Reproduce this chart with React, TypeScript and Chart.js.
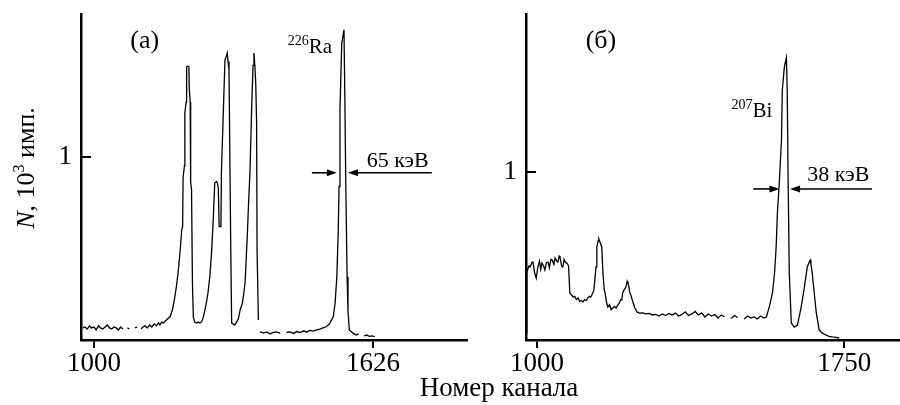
import React, { useEffect, useRef } from "react";
import { Chart, registerables } from "chart.js";

Chart.register(...registerables);

const SERIF = "'Liberation Serif', 'Times New Roman', serif";

// ---------- Panel (а): 226Ra ----------
const leftChannels = [
  975, 980, 985, 990, 995, 1000, 1005, 1010, 1015, 1020, 1025, 1030, 1035, 1040, 1045, 1050, 1055, 1060, 1065, 1070,
  1075, 1080, 1085, 1092, 1097, 1102, 1106, 1110, 1115, 1120, 1125, 1130, 1135, 1140, 1145, 1148, 1152, 1156, 1160, 1165,
  1171, 1176, 1180, 1185, 1189, 1193, 1197, 1199, 1200, 1203, 1204, 1207, 1208, 1213, 1214, 1216, 1217, 1219, 1221, 1223,
  1226, 1230, 1234, 1238, 1242, 1246, 1249, 1252, 1256, 1260, 1264, 1268, 1271, 1275, 1277, 1279, 1281, 1285, 1286, 1290,
  1294, 1297, 1299, 1301, 1303, 1305, 1307, 1309, 1312, 1316, 1320, 1324, 1328, 1333, 1336, 1339, 1344, 1347, 1350, 1354,
  1357, 1359, 1361, 1363, 1365, 1366, 1369, 1371, 1373, 1380, 1388, 1395, 1402, 1410, 1418, 1425, 1432, 1440, 1448, 1455,
  1462, 1470, 1477, 1485, 1492, 1500, 1507, 1514, 1520, 1526, 1530, 1537, 1541, 1545, 1548, 1550, 1552, 1556, 1561, 1563,
  1565, 1568, 1570, 1573, 1578, 1582, 1588, 1594, 1600, 1606, 1612, 1618, 1624, 1630,
];
const leftCounts: (number | null)[] = [
  0.066, 0.071, 0.060, 0.077, 0.066, 0.071, 0.055, 0.077, 0.066, 0.060, 0.071, 0.082, 0.066, 0.060, 0.071, 0.066, 0.055, 0.071, 0.060, null,
  0.066, 0.060, null, 0.066, 0.071, null, 0.060, 0.071, 0.077, 0.066, 0.082, 0.071, 0.088, 0.077, 0.093, 0.082, 0.098, 0.093, 0.104, 0.115,
  0.128, 0.164, 0.213, 0.291, 0.372, 0.475, 0.601, 0.62, 0.885, 0.95, 1.24, 1.3, 1.494, 1.494, 1.366, 1.3, 0.865, 0.82, 0.311, 0.128,
  0.098, 0.093, 0.098, 0.093, 0.1, 0.13, 0.164, 0.2, 0.26, 0.346, 0.48, 0.674, 0.858, 0.865, 0.858, 0.83, 0.619, 0.619, 0.913, 1.22,
  1.53, 1.55, 1.567, 1.52, 1.475, 1.002, 0.492, 0.093, 0.088, 0.082, 0.098, 0.115, 0.164, 0.2, 0.25, 0.311, 0.565, 0.75, 0.913, 1.275,
  1.5, 1.567, 1.5, 1.403, 1.184, 0.492, 0.109, null, 0.046, 0.038, 0.044, 0.033, 0.041, 0.044, 0.036, null, 0.041, 0.044, 0.036, 0.046,
  0.041, 0.049, 0.044, 0.052, 0.049, 0.055, 0.06, 0.066, 0.071, 0.082, 0.095, 0.128, 0.2, 0.346, 0.583, 0.838, 1.257, 1.621, 1.694, 1.311,
  0.856, 0.346, 0.16, 0.055, 0.044, 0.036, 0.027, 0.033, null, 0.022, 0.027, 0.02, 0.022, 0.018,
];
const leftXTicks = [1000, 1626];

// ---------- Panel (б): 207Bi ----------
const rightChannels = [
  973, 975, 980, 983, 987, 990, 994, 998, 1002, 1006, 1009, 1012, 1016, 1019, 1023, 1027, 1030, 1034, 1037, 1041,
  1044, 1048, 1051, 1054, 1056, 1060, 1063, 1066, 1070, 1073, 1077, 1080, 1084, 1088, 1092, 1096, 1100, 1104, 1108, 1112,
  1116, 1120, 1124, 1128, 1131, 1134, 1139, 1142, 1144, 1146, 1149, 1151, 1154, 1158, 1161, 1164, 1166, 1170, 1173, 1177,
  1181, 1185, 1189, 1193, 1197, 1201, 1204, 1207, 1209, 1213, 1217, 1220, 1222, 1224, 1226, 1230, 1234, 1239, 1244, 1250,
  1258, 1266, 1274, 1282, 1290, 1298, 1306, 1314, 1322, 1330, 1338, 1346, 1354, 1362, 1370, 1378, 1386, 1394, 1402, 1410,
  1418, 1426, 1434, 1442, 1450, 1458, 1466, 1474, 1482, 1490, 1498, 1506, 1514, 1522, 1530, 1538, 1546, 1554, 1560, 1567,
  1575, 1580, 1584, 1587, 1592, 1597, 1599, 1604, 1609, 1611, 1613, 1616, 1621, 1628, 1636, 1645, 1652, 1660, 1664, 1667,
  1669, 1672, 1677, 1682, 1689, 1696, 1705, 1713, 1721, 1730, 1738,
];
const rightCounts: (number | null)[] = [
  0.042, 0.405, 0.44, 0.435, 0.46, 0.464, 0.4, 0.369, 0.435, 0.47, 0.42, 0.458, 0.44, 0.417, 0.46, 0.464, 0.43, 0.48, 0.476, 0.45,
  0.488, 0.47, 0.464, 0.5, 0.494, 0.44, 0.435, 0.48, 0.46, 0.458, 0.44, 0.28, 0.27, 0.256, 0.26, 0.24, 0.25, 0.23, 0.235, 0.226,
  0.24, 0.235, 0.25, 0.26, 0.255, 0.268, 0.298, 0.38, 0.435, 0.554, 0.59, 0.601, 0.58, 0.554, 0.399, 0.3, 0.28, 0.22, 0.196, 0.21,
  0.18, 0.19, 0.2, 0.19, 0.208, 0.22, 0.24, 0.238, 0.28, 0.3, 0.315, 0.35, 0.339, 0.32, 0.286, 0.26, 0.226, 0.19, 0.167, 0.16,
  0.161, 0.155, 0.158, 0.149, 0.152, 0.143, 0.155, 0.146, 0.158, 0.149, 0.161, 0.143, 0.152, 0.167, 0.146, 0.155, 0.17, 0.149, 0.161, 0.137,
  0.155, 0.143, 0.152, 0.131, 0.149, 0.137, null, 0.128, 0.146, 0.134, null, 0.125, 0.143, 0.131, 0.137, 0.125, 0.143, 0.131, 0.137, 0.196,
  0.28, 0.399, 0.554, 0.756, 0.952, 1.19, 1.488, 1.625, 1.679, 1.488, 0.994, 0.399, 0.101, 0.077, 0.089, 0.196, 0.298, 0.435, 0.46, 0.476,
  0.45, 0.399, 0.28, 0.161, 0.06, 0.042, 0.03, 0.022, 0.018, 0.015, 0.012,
];
const rightXTicks = [1000, 1750];

const yTicks = [1];

type Part = { t: string; size: number; italic?: boolean; dy?: number };
type Label = { parts: Part[]; x: number; y: number; center?: boolean };
type Arrow = { from: number; to: number; y: number };

const leftLabels: Label[] = [
  { parts: [{ t: "(а)", size: 26 }], x: 1114, y: 1.596, center: true },
  { parts: [{ t: "226", size: 14, dy: -8 }, { t: "Ra", size: 21 }], x: 1435, y: 1.568 },
  { parts: [{ t: "65 кэВ", size: 22 }], x: 1612, y: 0.945 },
];
const leftArrows: Arrow[] = [
  { from: 1489, to: 1545, y: 0.913 },
  { from: 1758, to: 1570, y: 0.913 },
];
const rightLabels: Label[] = [
  { parts: [{ t: "(б)", size: 26 }], x: 1156, y: 1.738, center: true },
  { parts: [{ t: "207", size: 14, dy: -8 }, { t: "Bi", size: 21 }], x: 1475, y: 1.327 },
  { parts: [{ t: "38 кэВ", size: 22 }], x: 1660, y: 0.946 },
];
const rightArrows: Arrow[] = [
  { from: 1528, to: 1592, y: 0.899 },
  { from: 1818, to: 1618, y: 0.899 },
];

function fontOf(p: Part) {
  return `${p.italic ? "italic " : ""}${p.size}px ${SERIF}`;
}
function partsWidth(ctx: CanvasRenderingContext2D, parts: Part[]) {
  let w = 0;
  for (const p of parts) {
    ctx.font = fontOf(p);
    w += ctx.measureText(p.t).width;
  }
  return w;
}
function drawParts(ctx: CanvasRenderingContext2D, parts: Part[], x: number, y: number) {
  let cx = x;
  for (const p of parts) {
    ctx.font = fontOf(p);
    ctx.fillText(p.t, cx, y + (p.dy || 0));
    cx += ctx.measureText(p.t).width;
  }
}

const decor = {
  id: "decor",
  afterDraw(chart: any, _args: any, opts: any) {
    const { ctx, chartArea } = chart;
    const xs = chart.scales.x;
    const ys = chart.scales.y;
    ctx.save();
    ctx.fillStyle = "#000";
    ctx.strokeStyle = "#000";
    ctx.textAlign = "left";
    ctx.textBaseline = "alphabetic";
    // inward y ticks
    ctx.lineWidth = 2;
    for (const v of opts.yTicks as number[]) {
      const py = Math.round(ys.getPixelForValue(v));
      ctx.beginPath();
      ctx.moveTo(chartArea.left, py);
      ctx.lineTo(chartArea.left + 10, py);
      ctx.stroke();
    }
    // labels
    for (const l of opts.labels as Label[]) {
      let px = xs.getPixelForValue(l.x);
      const py = ys.getPixelForValue(l.y);
      if (l.center) px -= partsWidth(ctx, l.parts) / 2;
      drawParts(ctx, l.parts, px, py);
    }
    // arrows
    for (const a of opts.arrows as Arrow[]) {
      const x1 = xs.getPixelForValue(a.from);
      const x2 = xs.getPixelForValue(a.to);
      const py = ys.getPixelForValue(a.y);
      const dir = x2 > x1 ? 1 : -1;
      ctx.lineWidth = 1.6;
      ctx.beginPath();
      ctx.moveTo(x1, py);
      ctx.lineTo(x2 - dir * 6, py);
      ctx.stroke();
      ctx.beginPath();
      ctx.moveTo(x2, py);
      ctx.lineTo(x2 - dir * 10, py - 3.5);
      ctx.lineTo(x2 - dir * 10, py + 3.5);
      ctx.closePath();
      ctx.fill();
    }
    if (opts.titles) {
      // y title
      ctx.save();
      ctx.translate(34, 168);
      ctx.rotate(-Math.PI / 2);
      const parts: Part[] = [
        { t: "N", size: 26, italic: true },
        { t: ", 10", size: 26 },
        { t: "3", size: 16, dy: -10 },
        { t: " имп.", size: 26 },
      ];
      const w = partsWidth(ctx, parts);
      drawParts(ctx, parts, -w / 2, 0);
      ctx.restore();
      // x title
      const xt: Part[] = [{ t: "Номер канала", size: 27 }];
      const wx = partsWidth(ctx, xt);
      drawParts(ctx, xt, 499 - wx / 2, 396);
    }
    ctx.restore();
  },
};

function zeroPad(s: any) {
  s.paddingTop = 0;
  s.paddingBottom = 0;
  s.paddingLeft = 0;
  s.paddingRight = 0;
}

function makeConfig(
  channels: number[],
  counts: (number | null)[],
  xTicks: number[],
  xMin: number,
  xMax: number,
  yMax: number,
  yWidth: number,
  padRight: number,
  labels: Label[],
  arrows: Arrow[],
  titles: boolean
): any {
  const border = { display: true, color: "#000", width: 2.5 };
  const tickFont = { family: SERIF, size: 27 };
  return {
    type: "line",
    data: {
      datasets: [
        {
          data: channels.map((c, i) => ({ x: c, y: counts[i] })),
          borderColor: "#000",
          borderWidth: 1.3,
          pointRadius: 0,
          tension: 0,
          spanGaps: false,
          fill: false,
        },
      ],
    },
    options: {
      responsive: false,
      animation: false,
      events: [],
      layout: { padding: { left: 0, right: padRight, top: 14, bottom: 0 } },
      plugins: {
        legend: { display: false },
        tooltip: { enabled: false },
        decor: { yTicks, labels, arrows, titles },
      },
      scales: {
        x: {
          type: "linear",
          min: xMin,
          max: xMax,
          afterFit: (s: any) => {
            s.height = 65;
            zeroPad(s);
          },
          afterBuildTicks: (s: any) => {
            s.ticks = xTicks.map((v) => ({ value: v }));
          },
          grid: { drawOnChartArea: false, drawTicks: true, tickLength: 8, color: "#000", lineWidth: 2 },
          border,
          ticks: {
            color: "#000",
            font: tickFont,
            padding: 0,
            maxRotation: 0,
            autoSkip: false,
            callback: (v: any) => String(v),
          },
        },
        y: {
          type: "linear",
          min: 0,
          max: yMax,
          afterFit: (s: any) => {
            s.width = yWidth;
            zeroPad(s);
          },
          afterBuildTicks: (s: any) => {
            s.ticks = yTicks.map((v) => ({ value: v }));
          },
          grid: { drawOnChartArea: false, drawTicks: false },
          border,
          ticks: { color: "#000", font: tickFont, padding: 9, callback: (v: any) => String(v) },
        },
      },
    },
    plugins: [decor],
  };
}

export default function App() {
  const leftRef = useRef<HTMLCanvasElement>(null);
  const rightRef = useRef<HTMLCanvasElement>(null);
  useEffect(() => {
    const a = new Chart(
      leftRef.current as HTMLCanvasElement,
      makeConfig(leftChannels, leftCounts, leftXTicks, 971, 1837, 1.78, 81, 433, leftLabels, leftArrows, true)
    );
    const b = new Chart(
      rightRef.current as HTMLCanvasElement,
      makeConfig(rightChannels, rightCounts, rightXTicks, 973, 1884, 1.94, 526, 1, rightLabels, rightArrows, false)
    );
    return () => {
      a.destroy();
      b.destroy();
    };
  }, []);
  return (
    <div style={{ position: "absolute", left: 0, top: 0, width: 900, height: 405, background: "#fff" }}>
      <canvas ref={leftRef} width={900} height={405} style={{ position: "absolute", left: 0, top: 0 }} />
      <canvas ref={rightRef} width={900} height={405} style={{ position: "absolute", left: 0, top: 0 }} />
    </div>
  );
}
